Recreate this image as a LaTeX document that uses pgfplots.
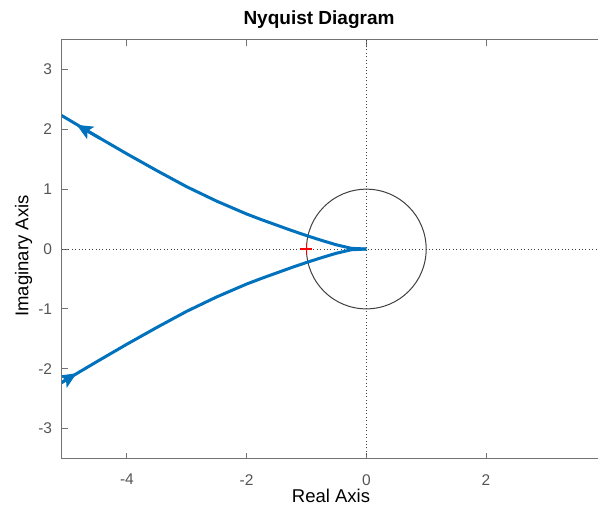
\documentclass[border=0pt]{standalone}
\usepackage{pgfplots}
\pgfplotsset{compat=1.18}
\usepackage{fontspec}
\setmainfont{Liberation Sans}
\usetikzlibrary{arrows.meta}
\definecolor{mblue}{RGB}{0,114,189}
\definecolor{axgray}{RGB}{115,115,115}
\definecolor{tickgray}{RGB}{85,85,85}
\definecolor{circgray}{RGB}{64,64,64}

\pgfplotstableread{
x y
-5.25 2.33
-5.09 2.23
-4.50 1.88
-4.00 1.59
-3.50 1.31
-3.00 1.04
-2.50 0.80
-2.00 0.585
-1.75 0.49
-1.50 0.40
-1.25 0.31
-1.00 0.225
-0.75 0.145
-0.50 0.07
-0.25 0.012
0 0
}\upperbranch

\pgfplotstableread{
x y
-5.25 -2.33
-5.09 -2.23
-4.50 -1.88
-4.00 -1.59
-3.50 -1.31
-3.00 -1.04
-2.50 -0.80
-2.00 -0.585
-1.75 -0.49
-1.50 -0.40
-1.25 -0.31
-1.00 -0.225
-0.75 -0.145
-0.50 -0.07
-0.25 -0.012
0 0
}\lowerbranch

\begin{document}
\begin{tikzpicture}
\path (-61.7pt,-45.5pt) rectangle (538.3pt,458.5pt);
\begin{axis}[
  at={(0,0)}, anchor=south west,
  scale only axis,
  x=59.85pt, y=59.85pt,
  xmin=-5.09, xmax=3.87, ymin=-3.5, ymax=3.5,
  axis y line*=left,
  xtick={-4,-2,0,2}, ytick={-3,-2,-1,0,1,2,3},
  tick align=inside,
  major tick length=6pt,
  axis line style={draw=none},
  every tick/.style={axgray, line width=1pt},
  tick label style={font=\fontsize{15.5}{16}\selectfont, text=tickgray},
  xticklabel style={inner sep=0pt, yshift=-15.5pt, anchor=north},
  yticklabel style={inner sep=0pt, xshift=-9.4pt, anchor=east},
  /pgf/number format/assume math mode=true,
  clip=true,
]
\draw[black!75, line width=1pt, dash pattern=on 1pt off 2.4pt] (axis cs:0,-3.5) -- (axis cs:0,3.5);
\draw[black!75, line width=1pt, dash pattern=on 1pt off 2.4pt] (axis cs:-5.09,0) -- (axis cs:3.87,0);
\draw[circgray, line width=1pt] (axis cs:0,0) circle[radius=59.85pt];
\addplot[mblue, line width=3pt, line join=round] table[x=x,y=y] {\upperbranch};
\addplot[mblue, line width=3pt, line join=round] table[x=x,y=y] {\lowerbranch};
\addplot[mblue, line width=3pt, -{Stealth[length=16pt, width=14pt, inset=3.5pt]}] coordinates {(-4.45,1.85) (-4.84,2.075)};
\addplot[mblue, line width=3pt, -{Stealth[length=16pt, width=14pt, inset=3.5pt]}] coordinates {(-5.25,-2.33) (-4.84,-2.075)};
\addplot[red, only marks, mark=+, mark size=6pt, line width=1.3pt] coordinates {(-1,0)};
\end{axis}
\draw[axgray, line width=1pt] (536.3pt,418.95pt) -- (0pt,418.95pt) -- (0pt,0pt) -- (536.3pt,0pt);
\node[anchor=base, inner sep=0pt, font=\bfseries\fontsize{19}{20}\selectfont] at (257.3pt,433.5pt) {Nyquist Diagram};
\node[anchor=base, inner sep=0pt, font=\fontsize{18.5}{19}\selectfont] at (269.3pt,-43.7pt) {Real Axis};
\node[anchor=base, inner sep=0pt, rotate=90, font=\fontsize{18.5}{19}\selectfont] at (-33.4pt,202.5pt) {Imaginary Axis};
\end{tikzpicture}
\end{document}
